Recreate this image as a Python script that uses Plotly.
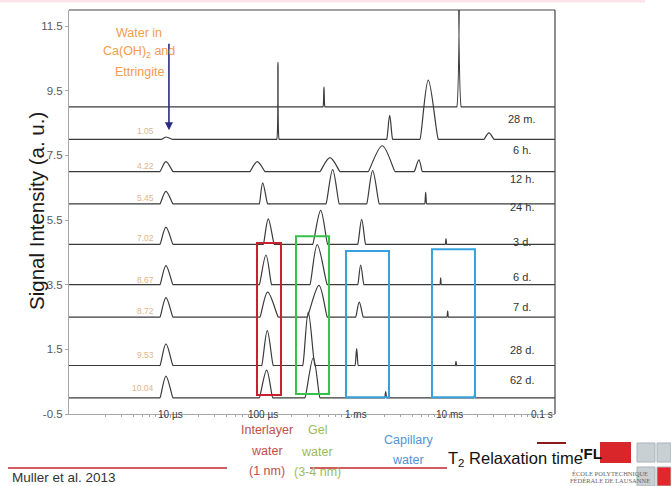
import math
import plotly.graph_objects as go

# ---------------- data (T2 in microseconds, signal in a.u.) ----------------
X_MIN_US = 0.8
X_MAX_US = 140000

series_names = ["28 m.", "6 h.", "12 h.", "24 h.", "3 d.", "6 d.", "7 d.", "28 d.", "62 d."]
offsets = [9.0, 8.0, 7.0, 6.0, 4.75, 3.5, 2.5, 1.0, 0.0]
t2_numbers = [None, "1.05", "4.22", "5.45", "7.02", "8.67", "8.72", "9.53", "10.04"]

# peaks: (T2 start, T2 apex, T2 end, amplitude)
peaks_28m = [(439.5, 450.7, 461.9, 0.62), (12050, 12745, 13500, 40.0)]
peaks_6h = [(8.16, 9.01, 10.46, 0.07), (140.0, 144.2, 148.6, 2.38), (2128, 2292, 2469, 0.74),
            (4853, 5963, 7636, 1.83), (23675, 26790, 30310, 0.20)]
peaks_12h = [(7.77, 9.01, 10.72, 0.31), (72.1, 86.4, 104.6, 0.31), (408.1, 522.7, 669.5, 0.43),
             (1349.5, 1908, 2614, 0.80), (4215, 4735, 5138, 0.36)]
peaks_24h = [(7.77, 9.01, 10.72, 0.39), (90.8, 98.8, 111.8, 0.65), (473.5, 558.9, 658.0, 1.06),
             (1297, 1505, 1772, 1.03), (5454, 5590, 5730, 0.36)]
peaks_3d = [(7.77, 9.01, 10.72, 0.53), (100.3, 113.4, 131.6, 0.79), (340.7, 415.2, 493.7, 1.05),
            (1038, 1146, 1265, 0.77), (9081, 9239, 9400, 0.18)]
peaks_6d = [(7.77, 9.01, 10.72, 0.59), (90.8, 107.2, 123.4, 0.92), (318.5, 381.6, 488.9, 1.24),
            (1038, 1118, 1213, 0.61), (7962, 8101, 8243, 0.21)]
peaks_7d = [(7.77, 9.01, 10.72, 0.60), (92.4, 111.8, 145.3, 0.77), (298.0, 398.1, 488.9, 0.98),
            (987.7, 1080, 1192, 0.46), (9470, 9636, 9804, 0.19)]
peaks_28d = [(7.77, 9.01, 10.72, 0.67), (96.4, 110.7, 128.4, 1.08), (265.9, 305.4, 360.6, 1.65),
             (970.7, 1012, 1053, 0.52), (11630, 11840, 12040, 0.13)]
peaks_62d = [(7.77, 9.01, 10.72, 0.67), (90.8, 109.0, 126.6, 0.86), (281.5, 345.7, 408.1, 1.24),
             (2025, 2076, 2128, 0.19), (18480, 18800, 19130, 0.14)]
all_peaks = [peaks_28m, peaks_6h, peaks_12h, peaks_24h, peaks_3d, peaks_6d, peaks_7d, peaks_28d, peaks_62d]

# water-population windows
box_names = ["Interlayer", "Gel", "Capillary", "Capillary (long)"]
box_t_start = [85.8, 225.3, 777, 6534]
box_t_end = [155.4, 509.9, 2253, 18940]
box_y_low = [0.09, 0.12, 0.02, 0.02]
box_y_high = [4.79, 5.00, 4.54, 4.60]

x_tick_values = [10, 100, 1000, 10000, 100000]
x_tick_text = ["10 µs", "100 µs", "1 ms", "10 ms", "0.1 s"]
y_tick_values = [-0.5, 1.5, 3.5, 5.5, 7.5, 9.5, 11.5]

# ---------------- style / layout ----------------
W, H = 671, 486
L_M, R_M, T_M, B_M = 69, 116, 10, 72
SANS = "Liberation Sans, Arial, sans-serif"
LINE_COLOR = "#3a3a3a"
box_colors = ["#c8202f", "#36c24a", "#38a0da", "#38a0da"]
series_label_y = [8.62, 7.66, 6.77, 5.90, 4.82, 3.74, 2.81, 1.48, 0.55]
number_label_y = [None, 8.25, 7.16, 6.18, 4.94, 3.64, 2.68, 1.32, 0.30]


def px_x(px):
    return (px - L_M) / (W - L_M - R_M)


def px_y(py):
    return (H - B_M - py) / (H - B_M - T_M)


def build_xy(peaks, offset):
    xs, ys = [X_MIN_US], [offset]
    for t0, tp, t1, a in peaks:
        xs += [t0 / 1.01, t0, tp, t1, t1 * 1.01]
        ys += [offset, offset, offset + a, offset, offset]
    xs.append(X_MAX_US)
    ys.append(offset)
    return xs, ys


fig = go.Figure()
for name, off, peaks in zip(series_names, offsets, all_peaks):
    xs, ys = build_xy(peaks, off)
    fig.add_trace(go.Scatter(x=xs, y=ys, mode="lines", name=name,
                             line=dict(color=LINE_COLOR, width=1.2, shape="spline", smoothing=1,
                                       simplify=False),
                             hoverinfo="skip", showlegend=False))

shapes = []
for x0, x1, y0, y1, c in zip(box_t_start, box_t_end, box_y_low, box_y_high, box_colors):
    shapes.append(dict(type="rect", xref="x", yref="y", x0=x0, x1=x1, y0=y0, y1=y1,
                       line=dict(color=c, width=2), fillcolor="rgba(0,0,0,0)"))
# top and right frame
shapes.append(dict(type="line", xref="paper", yref="paper", x0=0, x1=1, y0=1, y1=1,
                   line=dict(color="#444444", width=1.2)))
shapes.append(dict(type="line", xref="paper", yref="paper", x0=1, x1=1, y0=0, y1=1,
                   line=dict(color="#444444", width=1.2)))
# slide decorations
shapes.append(dict(type="rect", xref="paper", yref="paper", x0=px_x(0), x1=px_x(645), y0=px_y(0), y1=px_y(2.5),
                   line=dict(width=0), fillcolor="#fbe4ea"))
for xa, xb in [(8, 227), (310, 447)]:
    shapes.append(dict(type="line", xref="paper", yref="paper", x0=px_x(xa), x1=px_x(xb),
                       y0=px_y(468), y1=px_y(468), line=dict(color="#c0262d", width=1.5)))
shapes.append(dict(type="line", xref="paper", yref="paper", x0=px_x(537), x1=px_x(566),
                   y0=px_y(443), y1=px_y(443), line=dict(color="#8b1a1a", width=2)))
shapes.append(dict(type="rect", xref="paper", yref="paper", x0=px_x(600), x1=px_x(631), y0=px_y(463), y1=px_y(442),
                   line=dict(width=0), fillcolor="#d9262b"))
for (xa, xb, ya, yb, col) in [(637, 655, 443, 462, "#c9d0d4"), (657, 671, 443, 462, "#c9d0d4"),
                              (637, 655, 467, 486, "#c9d0d4"), (657, 671, 467, 486, "#e3262b")]:
    shapes.append(dict(type="rect", xref="paper", yref="paper", x0=px_x(xa), x1=px_x(xb), y0=px_y(yb), y1=px_y(ya),
                       line=dict(color="#aab3b8", width=1), fillcolor=col))

ann = []
# x tick labels sitting on the axis line
for v, t in zip(x_tick_values, x_tick_text):
    ann.append(dict(x=math.log10(v), y=-0.5, xref="x", yref="y", text=t, showarrow=False,
                    xanchor="center", yanchor="middle", font=dict(family=SANS, size=10, color="#404040")))
# series labels (right)
for name, yy in zip(series_names, series_label_y):
    ann.append(dict(x=math.log10(60700), y=yy, xref="x", yref="y", text=name, showarrow=False,
                    xanchor="center", yanchor="middle", font=dict(family=SANS, size=11, color="#333333")))
# T2 numbers near the 10 µs peak
for t, yy in zip(t2_numbers, number_label_y):
    if t is None:
        continue
    ann.append(dict(x=math.log10(7.04), y=yy, xref="x", yref="y", text=t, showarrow=False,
                    xanchor="right", yanchor="middle", font=dict(family=SANS, size=8.5, color="#e2b48a")))
# arrow
ann.append(dict(x=math.log10(9.7), y=8.28, xref="x", yref="y", text="", showarrow=True, ax=0, ay=-88,
                arrowhead=2, arrowsize=1, arrowwidth=1.6, arrowcolor="#2b2a80", standoff=0))


def text_block(lines, cx, ys, color, size, family=SANS):
    for line, yy in zip(lines, ys):
        ann.append(dict(x=px_x(cx), y=px_y(yy), xref="paper", yref="paper", text=line, showarrow=False,
                        xanchor="center", yanchor="middle", font=dict(family=family, size=size, color=color)))


text_block(["Water in", "Ca(OH)<sub>2</sub> and", "Ettringite"], 139, [33, 52, 72], "#f39b4e", 12.5)
text_block(["Interlayer", "water", "(1 nm)"], 267, [430, 451, 471], "#c0504d", 12.5)
text_block(["Gel", "water", "(3-4 nm)"], 317, [430, 452, 472], "#9bbb59", 12.5)
text_block(["Capillary", "water"], 408, [440, 460], "#4f94d4", 12.5)

ann.append(dict(x=px_x(36), y=px_y(211), xref="paper", yref="paper", text="Signal Intensity (a. u.)",
                textangle=-90, showarrow=False, xanchor="center", yanchor="middle",
                font=dict(family=SANS, size=20.5, color="#1a1a1a")))
ann.append(dict(x=px_x(515), y=px_y(459), xref="paper", yref="paper", text="T<sub>2</sub> Relaxation time",
                showarrow=False, xanchor="center", yanchor="middle",
                font=dict(family=SANS, size=16.5, color="#111111")))
ann.append(dict(x=px_x(10), y=px_y(478), xref="paper", yref="paper", text="Muller et al. 2013",
                showarrow=False, xanchor="left", yanchor="middle",
                font=dict(family=SANS, size=13.5, color="#333333")))
ann.append(dict(x=px_x(591), y=px_y(453), xref="paper", yref="paper", text="<b>'FL</b>",
                showarrow=False, xanchor="center", yanchor="middle",
                font=dict(family=SANS, size=15, color="#111111")))
ann.append(dict(x=px_x(610), y=px_y(474), xref="paper", yref="paper", text="ÉCOLE POLYTECHNIQUE",
                showarrow=False, xanchor="center", yanchor="middle",
                font=dict(family="Liberation Serif, serif", size=6.5, color="#666666")))
ann.append(dict(x=px_x(610), y=px_y(481), xref="paper", yref="paper", text="FÉDÉRALE DE LAUSANNE",
                showarrow=False, xanchor="center", yanchor="middle",
                font=dict(family="Liberation Serif, serif", size=6.5, color="#666666")))

fig.update_layout(
    width=W, height=H,
    margin=dict(l=L_M, r=R_M, t=T_M, b=B_M, pad=0),
    paper_bgcolor="white", plot_bgcolor="white",
    shapes=shapes, annotations=ann,
    xaxis=dict(type="log", range=[math.log10(X_MIN_US) + 0.009, 5.138], showgrid=False, zeroline=False,
               showline=True, linecolor="#a6a6a6", linewidth=1, ticks="outside", ticklen=3,
               tickcolor="#a6a6a6", tickvals=x_tick_values, showticklabels=False,
               minor=dict(ticks="outside", ticklen=2, tickcolor="#a6a6a6", showgrid=False,
                          tickvals=[m * 10 ** k for k in range(0, 6) for m in range(2, 10)])),
    yaxis=dict(range=[-0.5, 12.0], showgrid=False, zeroline=False, showline=True, linecolor="#a6a6a6",
               linewidth=1, ticks="outside", ticklen=3, tickcolor="#a6a6a6", tickvals=y_tick_values,
               ticktext=[str(v) for v in y_tick_values],
               tickfont=dict(family=SANS, size=11.5, color="#595959")),
)

fig.write_html("out.html", config={"displayModeBar": False},
               post_script="document.body.style.margin='0';document.body.style.overflow='hidden';")
